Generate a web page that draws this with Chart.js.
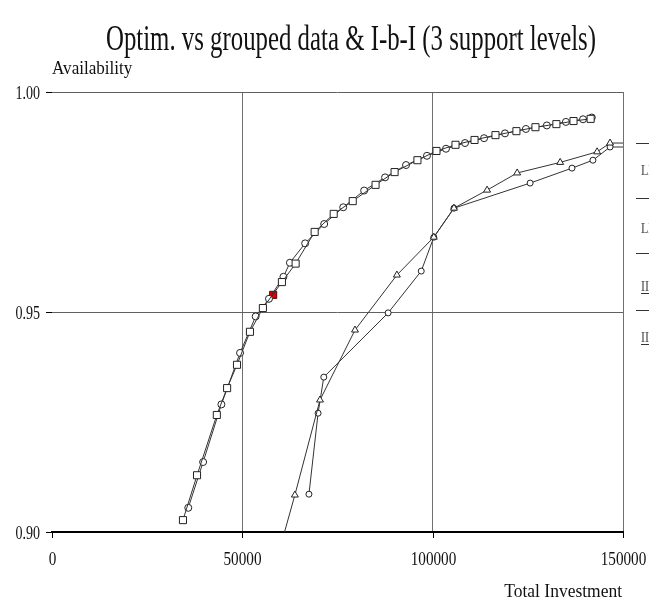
<!DOCTYPE html>
<html lang="en">
<head>
    <meta charset="UTF-8">
    <title>Optim. vs grouped data & I-b-I</title>
    <script src="https://cdn.jsdelivr.net/npm/chart.js"></script>
    <style>
        body { margin: 0; background: #fff; overflow: hidden; }
        canvas { display: block; }
    </style>
</head>
<body>

    <canvas id="availChart" width="649" height="606"></canvas>

    <script>
        // Optimisation curve (squares)
        const optimX = [34400, 38100, 43300, 46000, 48600, 52000, 55400, 60400, 64000, 69000, 74000, 79000,
                        85000, 90000, 96000, 101000, 106000, 111000, 116500, 122000, 127000, 132500, 137000, 141500];
        const optimY = [0.9027, 0.9129, 0.9266, 0.9327, 0.9380, 0.9455, 0.9509, 0.9568, 0.9610, 0.9682, 0.9723, 0.9752,
                        0.9789, 0.9818, 0.9845, 0.9866, 0.9880, 0.9891, 0.9902, 0.9911, 0.9920, 0.9927, 0.9934, 0.9939];

        // Grouped data (circles)
        const groupedX = [35800, 39700, 44500, 49400, 53500, 57000, 60800, 62500, 66500, 71500, 76500, 82000,
                          87500, 93000, 98500, 103500, 108500, 113500, 119000, 124500, 130000, 135000, 139500, 141800];
        const groupedY = [0.9055, 0.9159, 0.9290, 0.9407, 0.9490, 0.9530, 0.9580, 0.9612, 0.9656, 0.9700, 0.9738, 0.9776,
                          0.9806, 0.9834, 0.9855, 0.9871, 0.9884, 0.9895, 0.9906, 0.9916, 0.9924, 0.9932, 0.9938, 0.9942];

        // I-b-I, triangles
        const ibiTriX = [60600, 63800, 70400, 79600, 90600, 100300, 105600, 114300, 122200, 133500, 143200, 146600, 150000];
        const ibiTriY = [0.8985, 0.9084, 0.9300, 0.9459, 0.9584, 0.9670, 0.9736, 0.9777, 0.9816, 0.9840, 0.9864, 0.9884, 0.9884];

        // I-b-I, open circles
        const ibiCircX = [67500, 69900, 71400, 88300, 97000, 100300, 105600, 125600, 136600, 142100, 146600, 150000];
        const ibiCircY = [0.9086, 0.9270, 0.9352, 0.9498, 0.9593, 0.9670, 0.9736, 0.9793, 0.9827, 0.9845, 0.9875, 0.9875];

        // highlighted point
        const pickX = [58100];
        const pickY = [0.9539];

        const xTicks = [0, 50000, 100000, 150000];
        const yTicks = [0.90, 0.95, 1.00];
        const legendLabels = ["LP optimum", "LP grouped data", "II-b-I level A", "II-b-I level B"];

        function toPoints(xs, ys) {
            return xs.map((x, i) => ({ x: x, y: ys[i] }));
        }

        // draw text squeezed horizontally (the original font is a narrow serif)
        function narrowText(ctx, text, x, y, size, squeeze, align) {
            ctx.font = size + 'px "Liberation Serif"';
            const w = ctx.measureText(text).width * squeeze;
            let left = x;
            if (align === "center") left = x - w / 2;
            if (align === "right") left = x - w;
            ctx.save();
            ctx.translate(left, y);
            ctx.scale(squeeze, 1);
            ctx.textAlign = "left";
            ctx.textBaseline = "alphabetic";
            ctx.fillText(text, 0, 0);
            ctx.restore();
            return w;
        }

        const textPlugin = {
            id: "texts",
            afterDraw(chart) {
                const { ctx, chartArea: a, scales: { x, y } } = chart;
                ctx.save();
                ctx.strokeStyle = "#000";
                ctx.lineWidth = 1;
                ctx.fillStyle = "#111";

                // tick marks + labels
                xTicks.forEach(v => {
                    const px = Math.round(x.getPixelForValue(v)) + 0.5;
                    ctx.beginPath();
                    ctx.moveTo(px, a.bottom);
                    ctx.lineTo(px, a.bottom + 6);
                    ctx.stroke();
                    narrowText(ctx, String(v), px, 565, 19, 0.8, "center");
                });
                yTicks.forEach(v => {
                    const py = Math.round(y.getPixelForValue(v)) + 0.5;
                    ctx.beginPath();
                    ctx.moveTo(a.left - 6, py);
                    ctx.lineTo(a.left, py);
                    ctx.stroke();
                    narrowText(ctx, v.toFixed(2), 40, py + 6, 18, 0.78, "right");
                });

                // titles
                ctx.font = '36px "Liberation Serif"';
                const title = "Optim. vs grouped data & I-b-I (3 support levels)";
                const squeeze = 490 / ctx.measureText(title).width;
                narrowText(ctx, title, 351, 50, 36, squeeze, "center");
                narrowText(ctx, "Availability", 52, 74, 19, 0.9, "left");
                narrowText(ctx, "Total Investment", 622, 597, 19, 0.92, "right");

                // legend (runs off the right edge as in the original)
                const lineY = [143, 198, 253, 310];
                const textY = [175, 233, 291, 342];
                ctx.strokeStyle = "#333";
                ctx.fillStyle = "#444";
                legendLabels.forEach((lab, i) => {
                    ctx.beginPath();
                    ctx.moveTo(636, lineY[i] + 0.5);
                    ctx.lineTo(680, lineY[i] + 0.5);
                    ctx.stroke();
                    const w = narrowText(ctx, lab, 641, textY[i], 15, 0.8, "left");
                    if (i >= 2) {
                        ctx.beginPath();
                        ctx.moveTo(641, textY[i] + 2.5);
                        ctx.lineTo(641 + w, textY[i] + 2.5);
                        ctx.stroke();
                    }
                });
                ctx.restore();
            }
        };

        const lineStyle = {
            showLine: true,
            borderColor: "#333",
            borderWidth: 1,
            backgroundColor: "#fff",
            pointBorderColor: "#222",
            pointBorderWidth: 1,
            tension: 0
        };

        new Chart(document.getElementById("availChart"), {
            type: "scatter",
            data: {
                datasets: [
                    Object.assign({}, lineStyle, {
                        label: legendLabels[0],
                        data: toPoints(optimX, optimY),
                        pointStyle: "rect",
                        pointRadius: 5
                    }),
                    Object.assign({}, lineStyle, {
                        label: legendLabels[1],
                        data: toPoints(groupedX, groupedY),
                        pointStyle: "circle",
                        pointRadius: 3.5
                    }),
                    Object.assign({}, lineStyle, {
                        label: legendLabels[2],
                        data: toPoints(ibiTriX, ibiTriY),
                        pointStyle: "triangle",
                        pointRadius: ibiTriX.map((v, i) => (i === 0 || i === ibiTriX.length - 1) ? 0 : 4)
                    }),
                    Object.assign({}, lineStyle, {
                        label: legendLabels[3],
                        data: toPoints(ibiCircX, ibiCircY),
                        pointStyle: "circle",
                        pointRadius: ibiCircX.map((v, i) => i === ibiCircX.length - 1 ? 0 : 3)
                    }),
                    {
                        label: "selected",
                        data: toPoints(pickX, pickY),
                        pointStyle: "rect",
                        pointRadius: 5,
                        backgroundColor: "#e00000",
                        borderColor: "#5a0000",
                        borderWidth: 1
                    }
                ]
            },
            options: {
                responsive: false,
                animation: false,
                layout: { padding: { left: 52, right: 26, top: 92, bottom: 74 } },
                plugins: {
                    legend: { display: false },
                    tooltip: { enabled: false }
                },
                scales: {
                    x: {
                        type: "linear",
                        min: 0,
                        max: 150000,
                        ticks: { display: false, stepSize: 50000 },
                        grid: {
                            drawTicks: false,
                            color: ctx => ctx.tick && ctx.tick.value === 0 ? "rgba(0,0,0,0)" : "#707070",
                            lineWidth: 1
                        },
                        border: { display: true, color: "#000", width: 2 }
                    },
                    y: {
                        min: 0.90,
                        max: 1.00,
                        ticks: { display: false, stepSize: 0.05 },
                        grid: {
                            drawTicks: false,
                            color: "#606060",
                            lineWidth: 1
                        },
                        border: { display: false }
                    }
                }
            },
            plugins: [textPlugin]
        });
    </script>

</body>
</html>
